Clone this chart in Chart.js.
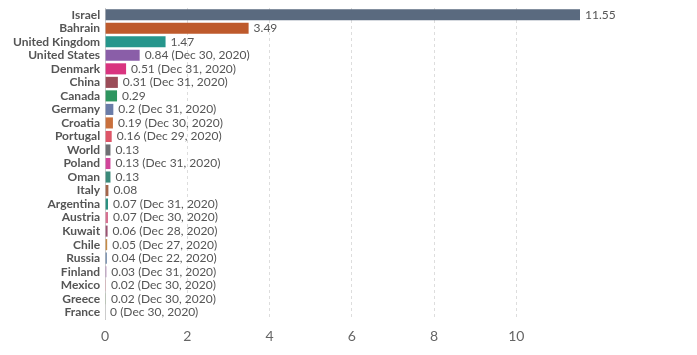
<!DOCTYPE html>
<html><head><meta charset="utf-8">
<script src="https://cdn.jsdelivr.net/npm/chart.js@4"></script>
<style>html,body{margin:0;padding:0;background:#fff}#wrap{width:697px;height:355px;position:relative}</style>
</head><body><div id="wrap"><canvas id="c"></canvas></div>
<script>
const countries = ["Israel","Bahrain","United Kingdom","United States","Denmark","China","Canada","Germany","Croatia","Portugal","World","Poland","Oman","Italy","Argentina","Austria","Kuwait","Chile","Russia","Finland","Mexico","Greece","France"];
const values = [11.55,3.49,1.47,0.84,0.51,0.31,0.29,0.2,0.19,0.16,0.13,0.13,0.13,0.08,0.07,0.07,0.06,0.05,0.04,0.03,0.02,0.02,0];
const dates = ["","","","Dec 30, 2020","Dec 31, 2020","Dec 31, 2020","","Dec 31, 2020","Dec 30, 2020","Dec 29, 2020","","Dec 31, 2020","","","Dec 31, 2020","Dec 30, 2020","Dec 28, 2020","Dec 27, 2020","Dec 22, 2020","Dec 31, 2020","Dec 30, 2020","Dec 30, 2020","Dec 30, 2020"];
const colors = ["#5a6a7f","#be5a2c","#26968c","#8a5ea8","#d9347f","#9b4c58","#2e955f","#6a7ca8","#c9703d","#de5568","#6e6f73","#d1459a","#3b8a7a","#a3654a","#2c9181","#d77191","#9b5372","#c68b46","#5c7a9e","#a97db0","#e3939f","#9cb893","#cccccc"];
const xTicks = [0,2,4,6,8,10];

const valueLabels = {
  id:'valueLabels',
  afterDatasetsDraw(chart){
    const ctx = chart.ctx, meta = chart.getDatasetMeta(0);
    ctx.save();
    ctx.font = '12px Lato';
    ctx.fillStyle = '#555';
    ctx.textBaseline = 'middle';
    meta.data.forEach((bar,i)=>{
      const t = values[i] + (dates[i] ? ' (' + dates[i] + ')' : '');
      ctx.fillText(t, bar.x + 5, bar.y);
    });
    ctx.restore();
  }
};

new Chart(document.getElementById('c'), {
  type:'bar',
  data:{labels:countries, datasets:[{data:values, backgroundColor:colors, borderWidth:0, categoryPercentage:1, barPercentage:0.82}]},
  options:{
    indexAxis:'y', responsive:true, maintainAspectRatio:false, animation:false,
    layout:{padding:{top:8,right:117,bottom:2,left:8}},
    plugins:{legend:{display:false}, tooltip:{enabled:false}},
    scales:{
      x:{min:0,max:11.55,
        afterBuildTicks(s){ s.ticks = xTicks.map(v=>({value:v})); },
        grid:{color:'#dddddd',drawTicks:false, tickLength:0},
        border:{display:false,dash:[3,3]},
        ticks:{font:{family:'Lato',size:14,lineHeight:1},color:'#666',padding:10}
      },
      y:{grid:{display:false,drawTicks:false},
        border:{display:true,color:'#cccccc'},
        ticks:{autoSkip:false,font:{family:'Lato',size:12,weight:'bold',lineHeight:0.5},color:'#555',padding:5}
      }
    }
  },
  plugins:[valueLabels]
});
</script></body></html>
